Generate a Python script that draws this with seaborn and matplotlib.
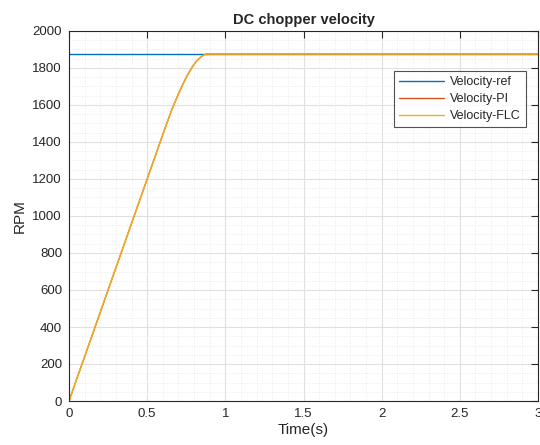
import numpy as np
import pandas as pd
import matplotlib
matplotlib.use("Agg")
import matplotlib.pyplot as plt
import seaborn as sns
from matplotlib.ticker import MultipleLocator

# --- data ---
time_ref = [0.0, 3.0]
vel_ref = [1875, 1875]

time_ctrl = [0.0, 0.5, 0.62, 0.66, 0.70, 0.73, 0.76, 0.79, 0.82, 0.85, 0.875, 3.0]
vel_pi = [0, 1200, 1488, 1580, 1660, 1715, 1765, 1808, 1842, 1864, 1875, 1875]
vel_flc = [0, 1200, 1488, 1580, 1660, 1715, 1765, 1808, 1842, 1864, 1875, 1875]

series_names = ["Velocity-ref", "Velocity-PI", "Velocity-FLC"]
colors = ["#0072BD", "#D95319", "#EDB120"]

df = pd.concat([
    pd.DataFrame({"t": time_ref, "v": vel_ref, "s": series_names[0]}),
    pd.DataFrame({"t": time_ctrl, "v": vel_pi, "s": series_names[1]}),
    pd.DataFrame({"t": time_ctrl, "v": vel_flc, "s": series_names[2]}),
], ignore_index=True)

sns.set_style("white")
plt.rcParams["font.family"] = ["Liberation Sans", "DejaVu Sans"]

fig = plt.figure(figsize=(5.4, 4.45), dpi=100)
ax = fig.add_axes([69 / 540, 1 - 401 / 445, 469 / 540, 370 / 445])

sns.lineplot(data=df, x="t", y="v", hue="s", palette=dict(zip(series_names, colors)),
             linewidth=1.0, ax=ax, sort=False, estimator=None)

ax.set_xlim(0, 3)
ax.set_ylim(0, 2000)
ax.xaxis.set_minor_locator(MultipleLocator(0.1))
ax.yaxis.set_major_locator(MultipleLocator(200))
ax.yaxis.set_minor_locator(MultipleLocator(50))
ax.set_xticks([0, 0.5, 1, 1.5, 2, 2.5, 3])
ax.set_xticklabels(["0", "0.5", "1", "1.5", "2", "2.5", "3"])

ax.grid(which="major", color="#e0e0e0", linewidth=0.8, linestyle="-")
ax.grid(which="minor", color="#e4e4e4", linewidth=0.6, linestyle=(0, (1, 2)))
ax.set_axisbelow(True)

ax.tick_params(which="major", direction="in", length=5, width=0.8, top=True, right=True,
               labelsize=9.5, colors="#262626", pad=5)
ax.tick_params(which="minor", length=0, top=True, right=True)
for sp in ax.spines.values():
    sp.set_color("#262626")
    sp.set_linewidth(0.8)

ax.set_title("DC chopper velocity", fontsize=10.5, fontweight="bold", pad=5)
ax.set_xlabel("Time(s)", fontsize=11, color="#262626", labelpad=2)
ax.set_ylabel("RPM", fontsize=11, color="#262626", labelpad=4)

leg = ax.legend(loc="upper left", bbox_to_anchor=((394 - 69) / 469, (401 - 71) / 370),
                fontsize=9, frameon=True, fancybox=False, edgecolor="#262626",
                handlelength=3.6, borderpad=0.4, labelspacing=0.42, handletextpad=0.5,
                borderaxespad=0)
leg.get_frame().set_linewidth(0.8)
leg.set_title(None)

fig.savefig("out.png", dpi=100)
